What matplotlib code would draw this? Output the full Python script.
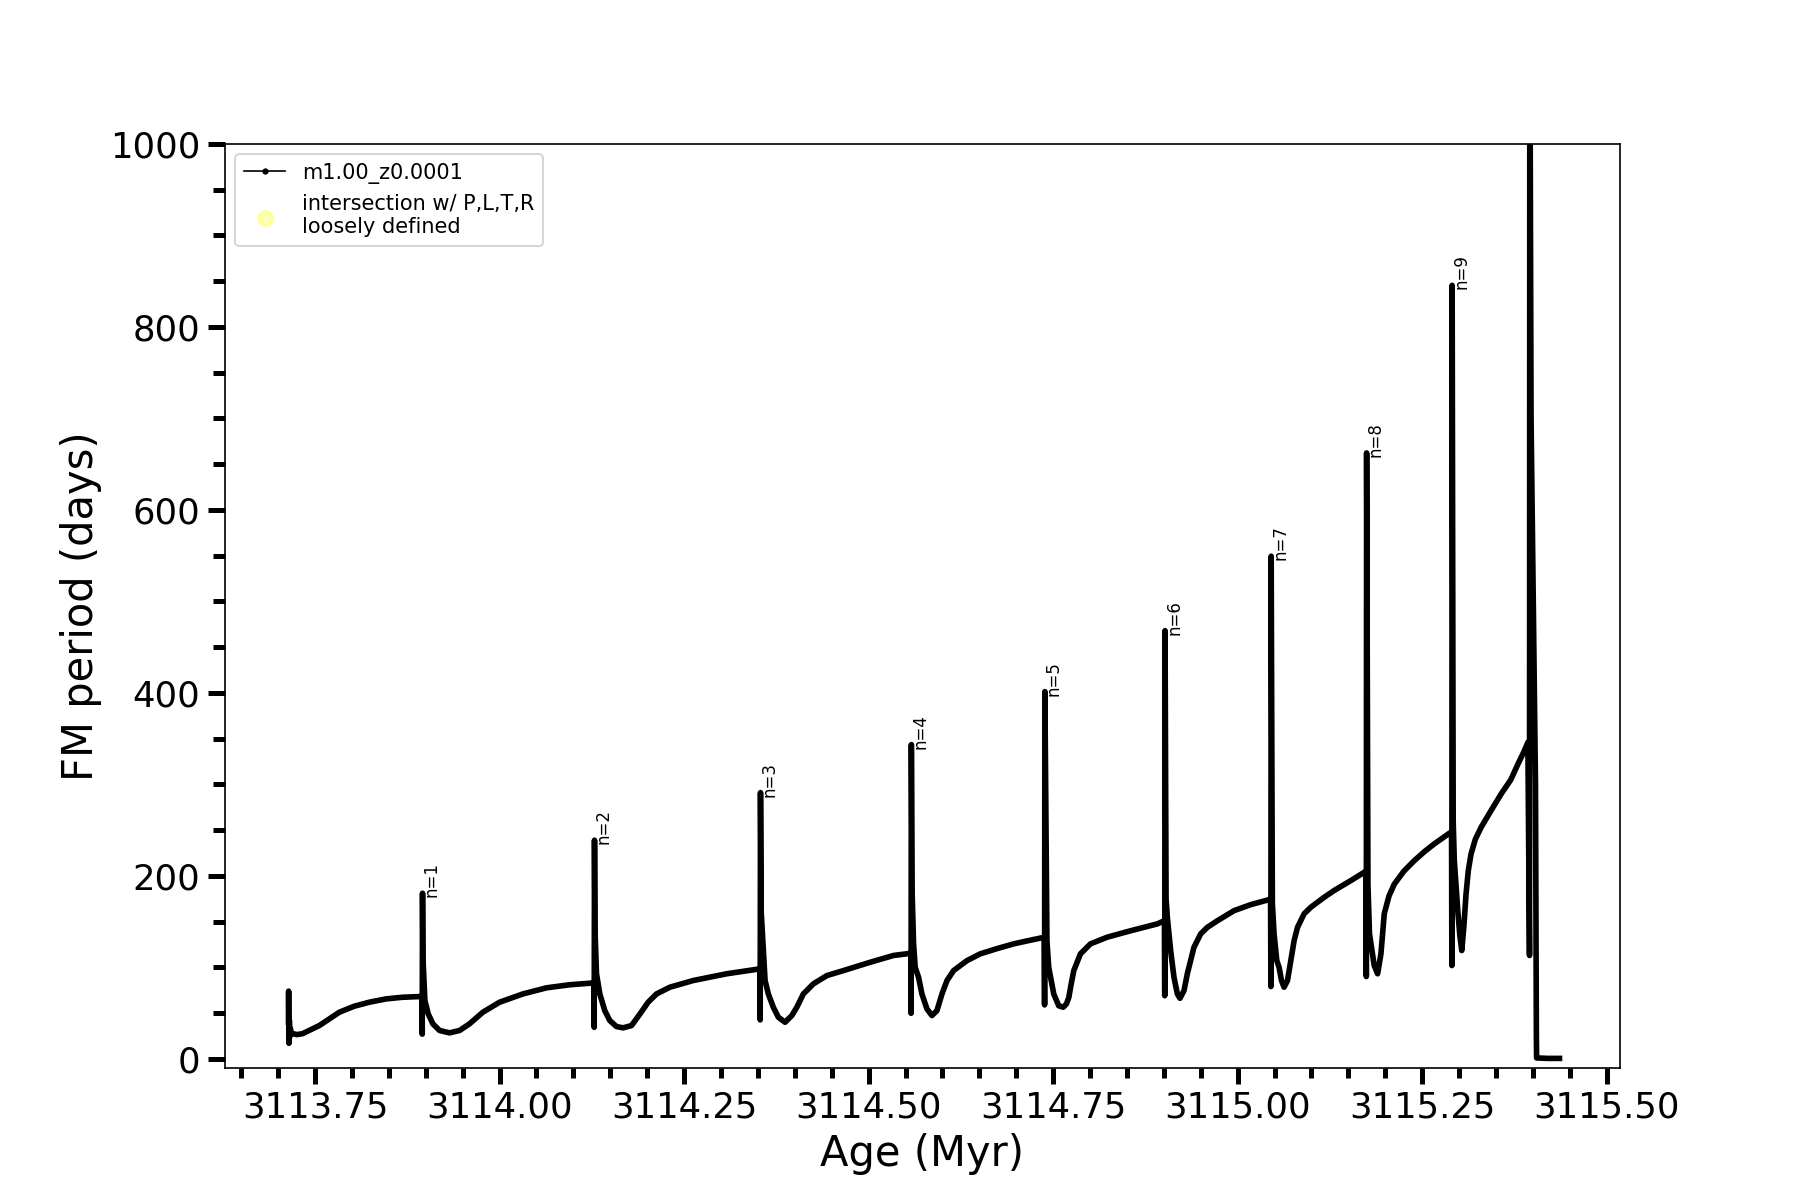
import matplotlib
matplotlib.use("Agg")
import matplotlib.pyplot as plt
from matplotlib.ticker import MultipleLocator, FormatStrFormatter

# FM period vs age along the thermal pulses
age = [
    # before the first pulse
    3113.7140, 3113.7142, 3113.7147, 3113.7152, 3113.7158, 3113.7165, 3113.7180,
    3113.7250, 3113.7330, 3113.7420, 3113.7560, 3113.7700, 3113.7830, 3113.8030,
    3113.8240, 3113.8460, 3113.8680, 3113.8910, 3113.8950,
    # n=1
    3113.8952, 3113.8956, 3113.8962, 3113.8988, 3113.9033, 3113.9096, 3113.9187,
    3113.9322, 3113.9458, 3113.9593, 3113.9774, 3114.0000, 3114.0317, 3114.0634,
    3114.0950, 3114.1280,
    # n=2
    3114.1282, 3114.1286, 3114.1293, 3114.1313, 3114.1358, 3114.1425, 3114.1493,
    3114.1584, 3114.1674, 3114.1788, 3114.1903, 3114.2013, 3114.2127, 3114.2307,
    3114.2623, 3114.3077, 3114.3529,
    # n=3
    3114.3531, 3114.3535, 3114.3545, 3114.3597, 3114.3641, 3114.3709, 3114.3777,
    3114.3868, 3114.3959, 3114.4027, 3114.4116, 3114.4252, 3114.4434, 3114.4659,
    3114.5022, 3114.5337, 3114.5573,
    # n=4
    3114.5575, 3114.5579, 3114.5590, 3114.5609, 3114.5631, 3114.5677, 3114.5722,
    3114.5790, 3114.5858, 3114.5926, 3114.5994, 3114.6062, 3114.6151, 3114.6333,
    3114.6513, 3114.6740, 3114.6966, 3114.7180, 3114.7380,
    # n=5
    3114.7384, 3114.7388, 3114.7416, 3114.7440, 3114.7508, 3114.7576, 3114.7636,
    3114.7680, 3114.7712, 3114.7745, 3114.7780, 3114.7870, 3114.8006, 3114.8233,
    3114.8549, 3114.8911, 3114.9008,
    # n=6
    3114.9012, 3114.9016, 3114.9030, 3114.9047, 3114.9092, 3114.9137, 3114.9183,
    3114.9218, 3114.9273, 3114.9318, 3114.9408, 3114.9499, 3114.9590, 3114.9726,
    3114.9951, 3115.0178, 3115.0425, 3115.0446,
    # n=7
    3115.0450, 3115.0454, 3115.0470, 3115.0493, 3115.0530, 3115.0561, 3115.0594,
    3115.0629, 3115.0675, 3115.0720, 3115.0765, 3115.0811, 3115.0900, 3115.0991,
    3115.1172, 3115.1307, 3115.1536, 3115.1716, 3115.1739,
    # n=8
    3115.1743, 3115.1747, 3115.1765, 3115.1786, 3115.1850, 3115.1896, 3115.1941,
    3115.1986, 3115.2050, 3115.2122, 3115.2250, 3115.2393, 3115.2530, 3115.2664,
    3115.2868, 3115.2898,
    # n=9
    3115.2902, 3115.2906, 3115.2920, 3115.2935, 3115.2982, 3115.3010, 3115.3036,
    3115.3065, 3115.3094, 3115.3125, 3115.3162, 3115.3220, 3115.3298, 3115.3430,
    3115.3570, 3115.3700, 3115.3796, 3115.3880, 3115.3932,
    # last pulse and the end of the track
    3115.3954, 3115.3958, 3115.3975, 3115.4035, 3115.4045, 3115.4046, 3115.4047,
    3115.4050, 3115.4200, 3115.4360,
]
period = [
    40, 74, 17, 42, 24, 33, 28,
    26.5, 27.5, 31, 36.5, 44, 51, 57.5,
    62, 65.5, 67.3, 68, 68.2,
    27, 181, 110, 63.7, 49.2, 38.3, 31,
    28.4, 31, 38.3, 51, 61.9, 71, 77.6,
    81, 83,
    34.5, 239, 140, 93, 71, 52.8, 41.9,
    35.3, 33.9, 36.4, 49.2, 61.9, 71, 78.3,
    85.6, 93, 98.4,
    42.6, 291, 160, 85.6, 71, 56.4, 45.5,
    40, 47.3, 56.4, 71, 82, 91, 96.5,
    105.6, 113, 115.4,
    49.8, 343.5, 180, 125.7, 100, 89, 71,
    54.6, 47.3, 52.8, 71, 85.6, 96.5, 107.4,
    114.8, 120.5, 125.7, 129.5, 132.9,
    59, 401.4, 129, 100, 71, 58, 56.4,
    60, 67, 82, 96.5, 114.8, 125.7, 133,
    140, 147.5, 151,
    69, 468, 175, 154.8, 118.4, 89.2, 71,
    66.2, 74.6, 93, 122, 136.6, 143.8, 151,
    162, 168.6, 174, 174.5,
    79, 549.4, 170, 136.6, 107.4, 100, 85.6,
    78.3, 85.6, 107.4, 129.3, 143.8, 158.5, 165.7,
    176.6, 184, 195, 204, 204.5,
    90, 662.3, 190, 136.6, 102, 93, 114.8,
    158.5, 178, 191, 205, 216.7, 226.5, 235,
    246.6, 247.7,
    102, 845.5, 260, 216.7, 162, 135, 118.4,
    145, 180, 206, 224, 240, 253, 271,
    289.6, 305, 322, 336, 346,
    113, 1150, 700, 300, 45.5, 35.3, 25.5,
    1, 0.5, 0.5,
]
pulse_n = [1, 2, 3, 4, 5, 6, 7, 8, 9]

fig, ax = plt.subplots(figsize=(12, 8), dpi=150)

ax.plot(age, period, '-', color='k', lw=2.7)

# legend entries
ax.plot([], [], '.-', color='k', lw=0.8, ms=4, label='m1.00_z0.0001')
ax.scatter([], [], s=50, color='yellow', alpha=0.3,
           label='intersection w/ P,L,T,R\nloosely defined')

# label the pulse peaks (sharp jump from the low point just before)
peaks = [i for i in range(1, len(period) - 1)
         if period[i] > 3 * period[i - 1] and period[i] > period[i + 1]]
for n, i in zip(pulse_n, peaks):
    ax.text(age[i], period[i], 'n=%d' % n, rotation=90, fontsize=8)

ax.set_xlim(3113.628, 3115.518)
ax.set_ylim(-10, 1000)
ax.xaxis.set_major_locator(MultipleLocator(0.25))
ax.xaxis.set_minor_locator(MultipleLocator(0.05))
ax.xaxis.set_major_formatter(FormatStrFormatter('%.2f'))
ax.yaxis.set_major_locator(MultipleLocator(200))
ax.yaxis.set_minor_locator(MultipleLocator(50))

ax.tick_params(axis='both', which='both', width=2.4, labelsize=17)
ax.tick_params(axis='y', which='major', length=8.4)
ax.tick_params(axis='y', which='minor', length=5.8)
ax.tick_params(axis='x', which='major', length=7.5)
ax.tick_params(axis='x', which='minor', length=4.8)

ax.set_xlabel('Age (Myr)', fontsize=20)
ax.set_ylabel('FM period (days)', fontsize=20)
ax.legend(loc='upper left', fontsize=10)

fig.savefig('out.png', dpi=150)
